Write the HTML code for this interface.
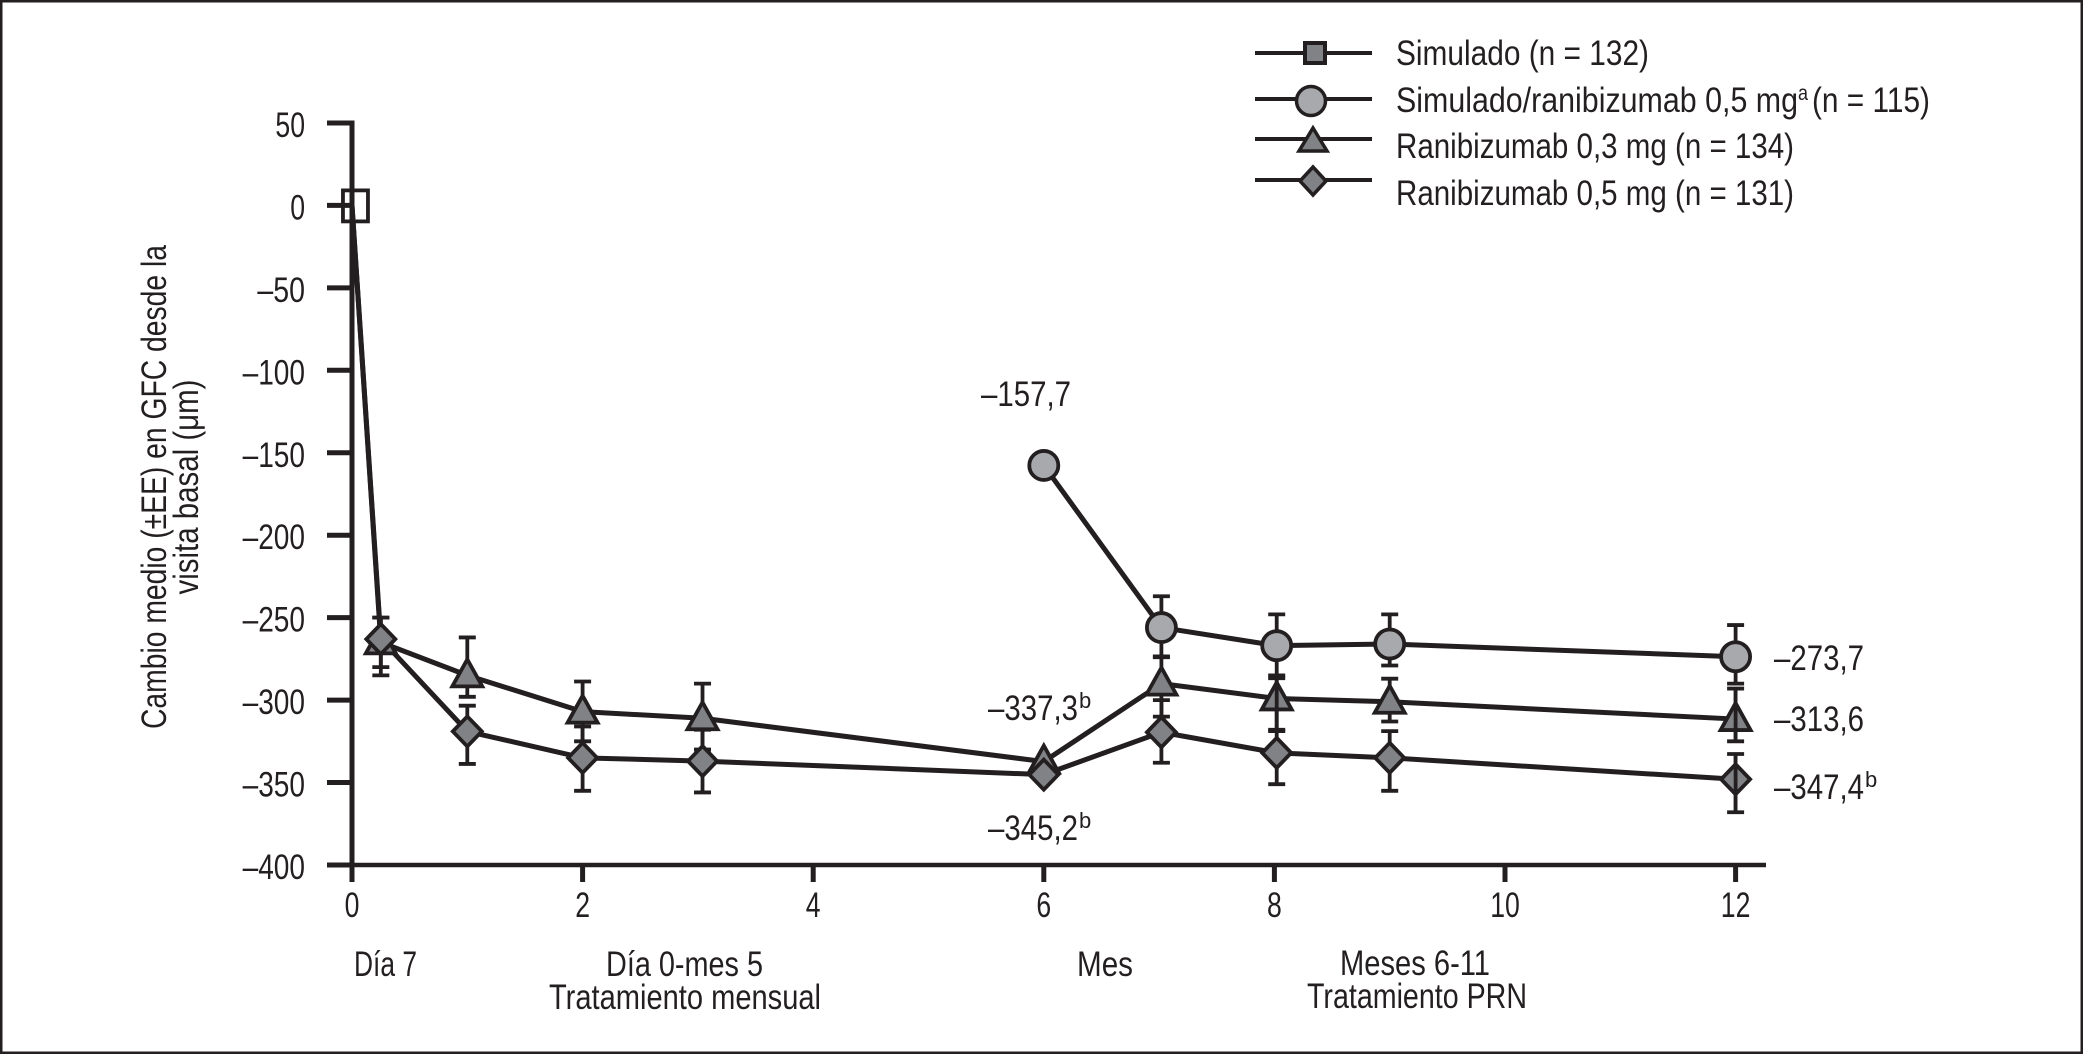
<!DOCTYPE html>
<html lang="es">
<head>
<meta charset="utf-8">
<title>Cambio medio en GFC desde la visita basal</title>
<style>
html,body{margin:0;padding:0;background:#fff;width:2083px;height:1054px;overflow:hidden}
svg{display:block}
text{font-family:"Liberation Sans Narrow","Liberation Sans",sans-serif;font-size:35px;fill:#231f20}
</style>
</head>
<body>
<svg id="chart" xmlns="http://www.w3.org/2000/svg" width="2083" height="1054" viewBox="0 0 2083 1054">
  <rect x="0" y="0" width="2083" height="1054" fill="#fff" stroke="#231f20" stroke-width="5"/>

  <g>
    <text transform="translate(166,487) rotate(-90)" text-anchor="middle" textLength="484" lengthAdjust="spacingAndGlyphs">Cambio medio (±EE) en GFC desde la</text>
    <text transform="translate(198,487) rotate(-90)" text-anchor="middle" textLength="215" lengthAdjust="spacingAndGlyphs">visita basal (μm)</text>
  </g>

  <g>
    <g>
      <line x1="1255" x2="1372" y1="53" y2="53" stroke="#231f20" stroke-width="4"/>
      <rect x="1305" y="43" width="20" height="20" fill="#808285" stroke="#231f20" stroke-width="4"/>
      <text x="1396" y="65" textLength="253" lengthAdjust="spacingAndGlyphs">Simulado (n = 132)</text>
    </g>
    <g>
      <line x1="1255" x2="1372" y1="99" y2="99" stroke="#231f20" stroke-width="4"/>
      <circle cx="1311" cy="101" r="14.5" fill="#a7a9ac" stroke="#231f20" stroke-width="3.5"/>
      <text x="1396" y="112" textLength="402" lengthAdjust="spacingAndGlyphs">Simulado/ranibizumab 0,5 mg</text>
      <text x="1798" y="100" style="font-size:21px" textLength="10" lengthAdjust="spacingAndGlyphs">a</text>
      <text x="1812" y="112" textLength="118" lengthAdjust="spacingAndGlyphs">(n = 115)</text>
    </g>
    <g>
      <line x1="1255" x2="1372" y1="139" y2="139" stroke="#231f20" stroke-width="4"/>
      <polygon points="1313,128 1327,151 1299,151" fill="#808285" stroke="#231f20" stroke-width="3.5"/>
      <text x="1396" y="158" textLength="398" lengthAdjust="spacingAndGlyphs">Ranibizumab 0,3 mg (n = 134)</text>
    </g>
    <g>
      <line x1="1255" x2="1372" y1="180" y2="180" stroke="#231f20" stroke-width="4"/>
      <polygon points="1313,167 1326,181 1313,195 1300,181" fill="#808285" stroke="#231f20" stroke-width="3.5"/>
      <text x="1396" y="205" textLength="398" lengthAdjust="spacingAndGlyphs">Ranibizumab 0,5 mg (n = 131)</text>
    </g>
  </g>

  <g id="axes"></g>
  <g id="series"></g>

  <g>
    <text x="981" y="406" textLength="90" lengthAdjust="spacingAndGlyphs">–157,7</text>
    <text x="988" y="720" textLength="90" lengthAdjust="spacingAndGlyphs">–337,3</text>
    <text x="1079" y="708" style="font-size:22px">b</text>
    <text x="988" y="840" textLength="90" lengthAdjust="spacingAndGlyphs">–345,2</text>
    <text x="1079" y="828" style="font-size:22px">b</text>
    <text x="1774" y="670" textLength="90" lengthAdjust="spacingAndGlyphs">–273,7</text>
    <text x="1774" y="731" textLength="90" lengthAdjust="spacingAndGlyphs">–313,6</text>
    <text x="1774" y="799" textLength="90" lengthAdjust="spacingAndGlyphs">–347,4</text>
    <text x="1865" y="787" style="font-size:22px">b</text>
  </g>

  <g>
    <text x="354" y="976" textLength="63" lengthAdjust="spacingAndGlyphs">Día 7</text>
    <text x="606" y="976" textLength="157" lengthAdjust="spacingAndGlyphs">Día 0-mes 5</text>
    <text x="549" y="1009" textLength="272" lengthAdjust="spacingAndGlyphs">Tratamiento mensual</text>
    <text x="1077" y="976" textLength="56" lengthAdjust="spacingAndGlyphs">Mes</text>
    <text x="1340" y="975" textLength="150" lengthAdjust="spacingAndGlyphs">Meses 6-11</text>
    <text x="1307" y="1008" textLength="220" lengthAdjust="spacingAndGlyphs">Tratamiento PRN</text>
  </g>
</svg>

<script>
// Axis ticks
const yTickValues = [50, 0, -50, -100, -150, -200, -250, -300, -350, -400];
const yTickLabels = ['50', '0', '–50', '–100', '–150', '–200', '–250', '–300', '–350', '–400'];
const xTickValues = [0, 2, 4, 6, 8, 10, 12];
const xTickLabels = ['0', '2', '4', '6', '8', '10', '12'];

// Simulado
const shamMonths = [0.03];
const shamValues = [0];

// Simulado / ranibizumab 0,5 mg
const crossoverMonths = [6, 7.02, 8.02, 9, 12];
const crossoverValues = [-157.7, -256, -267, -266, -273.7];
const crossoverHigh = [null, -237, -248, -248, -254.5];
const crossoverLow = [null, -274, -285, -279, -290];

// Ranibizumab 0,3 mg
const lowDoseMonths = [0, 0.25, 1, 2, 3.04, 6, 7.02, 8.02, 9, 12];
const lowDoseValues = [0, -265, -285, -307, -311, -337.3, -290, -299, -301, -311.5];
const lowDoseHigh = [null, -250, -262, -288.7, -290, null, -273.5, -286.7, -287, -293];
const lowDoseLow = [null, -280, -298, -325, -330, null, -310, -318, -313, -325];

// Ranibizumab 0,5 mg
const highDoseMonths = [0, 0.25, 1, 2, 3.04, 6, 7.02, 8.02, 9, 12];
const highDoseValues = [0, -263, -319, -335, -337, -345.2, -319.5, -332, -335, -348];
const highDoseHigh = [null, -250, -303.4, -316, -318, null, -300, -318.8, -318.8, -332.7];
const highDoseLow = [null, -285, -338.7, -355, -356, null, -338, -351, -355, -368];

// Months where the error stem shows through the marker
const lowDoseStemOver = [8.02, 12];
const highDoseStemOver = [12];

const INK = '#231f20';
const NS = 'http://www.w3.org/2000/svg';
const xScale = m => 352 + 115.3 * m;
const yScale = v => 205.4 - 1.649 * v;

const axes = document.getElementById('axes');
const seriesLayer = document.getElementById('series');

function make(tag, parent, attrs) {
  const el = document.createElementNS(NS, tag);
  for (const k in attrs) el.setAttribute(k, attrs[k]);
  parent.appendChild(el);
  return el;
}
function named(el, name) {
  
  
  return el;
}
function labelWidth(s) {
  const digits = s.replace('–', '').length;
  return digits * 14.8 + (s.includes('–') ? 18 : 0);
}

// Axes
const yBottom = yScale(-400);
const yTop = yScale(50);
named(make('line', axes, {x1: xScale(0), x2: xScale(0), y1: yTop - 2.5, y2: yBottom + 17, stroke: INK, 'stroke-width': 5}), 'y-axis-line');
named(make('line', axes, {x1: 327, x2: 1766, y1: yBottom, y2: yBottom, stroke: INK, 'stroke-width': 4.5}), 'x-axis-line');

yTickValues.forEach((v, i) => {
  const y = yScale(v);
  named(make('line', axes, {x1: 327, x2: xScale(0), y1: y, y2: y, stroke: INK, 'stroke-width': 5}), 'y-tick');
  const t = named(make('text', axes, {x: 305, y: y + 14, 'text-anchor': 'end', textLength: labelWidth(yTickLabels[i]), lengthAdjust: 'spacingAndGlyphs'}), 'y-tick-label');
  t.textContent = yTickLabels[i];
});
xTickValues.forEach((v, i) => {
  const x = xScale(v);
  named(make('line', axes, {x1: x, x2: x, y1: yBottom, y2: yBottom + 17, stroke: INK, 'stroke-width': 5}), 'x-tick');
  const t = named(make('text', axes, {x: x, y: 917, 'text-anchor': 'middle', textLength: labelWidth(xTickLabels[i]), lengthAdjust: 'spacingAndGlyphs'}), 'x-tick-label');
  t.textContent = xTickLabels[i];
});

// Series
function drawLine(months, values, name) {
  const pts = months.map((m, i) => xScale(m) + ',' + yScale(values[i])).join(' ');
  named(make('polyline', seriesLayer, {points: pts, fill: 'none', stroke: INK, 'stroke-width': 5, 'stroke-linejoin': 'round'}), name);
}
function drawErrors(months, high, low, name) {
  months.forEach((m, i) => {
    if (high[i] === null) return;
    const x = xScale(m);
    const g = named(make('g', seriesLayer, {stroke: INK, 'stroke-width': 3.8}), name);
    make('line', g, {x1: x, x2: x, y1: yScale(high[i]), y2: yScale(low[i])});
    make('line', g, {x1: x - 8.5, x2: x + 8.5, y1: yScale(high[i]), y2: yScale(high[i])});
    make('line', g, {x1: x - 8.5, x2: x + 8.5, y1: yScale(low[i]), y2: yScale(low[i])});
  });
}
function drawStemOver(overMonths, months, high, low, name) {
  overMonths.forEach(m => {
    const i = months.indexOf(m);
    const x = xScale(m);
    named(make('line', seriesLayer, {x1: x, x2: x, y1: yScale(high[i]), y2: yScale(low[i]), stroke: INK, 'stroke-width': 3.8}), name);
  });
}
function drawCircle(m, v) {
  named(make('circle', seriesLayer, {cx: xScale(m), cy: yScale(v), r: 14.5, fill: '#a7a9ac', stroke: INK, 'stroke-width': 3.8}), 'point-simulado-ranibizumab');
}
function drawTriangle(m, v) {
  const x = xScale(m), y = yScale(v);
  named(make('polygon', seriesLayer, {points: `${x},${y - 16} ${x + 15},${y + 11} ${x - 15},${y + 11}`, fill: '#808285', stroke: INK, 'stroke-width': 3.8}), 'point-ranibizumab-03');
}
function drawDiamond(m, v) {
  const x = xScale(m), y = yScale(v);
  named(make('polygon', seriesLayer, {points: `${x},${y - 15} ${x + 14.5},${y} ${x},${y + 15} ${x - 14.5},${y}`, fill: '#808285', stroke: INK, 'stroke-width': 3.8}), 'point-ranibizumab-05');
}

drawLine(lowDoseMonths, lowDoseValues, 'line-ranibizumab-03');
drawLine(highDoseMonths, highDoseValues, 'line-ranibizumab-05');
drawLine(crossoverMonths, crossoverValues, 'line-simulado-ranibizumab');
drawErrors(crossoverMonths, crossoverHigh, crossoverLow, 'error-bar-simulado-ranibizumab');
drawErrors(lowDoseMonths, lowDoseHigh, lowDoseLow, 'error-bar-ranibizumab-03');
drawErrors(highDoseMonths, highDoseHigh, highDoseLow, 'error-bar-ranibizumab-05');
lowDoseMonths.forEach((m, i) => { if (m > 0) drawTriangle(m, lowDoseValues[i]); });
highDoseMonths.forEach((m, i) => { if (m > 0) drawDiamond(m, highDoseValues[i]); });
drawStemOver(lowDoseStemOver, lowDoseMonths, lowDoseHigh, lowDoseLow, 'error-stem-ranibizumab-03');
drawStemOver(highDoseStemOver, highDoseMonths, highDoseHigh, highDoseLow, 'error-stem-ranibizumab-05');
crossoverMonths.forEach((m, i) => drawCircle(m, crossoverValues[i]));
shamMonths.forEach((m, i) => {
  named(make('rect', seriesLayer, {x: xScale(m) - 12.5, y: yScale(shamValues[i]) - 15, width: 25, height: 31, fill: 'none', stroke: INK, 'stroke-width': 3.8}), 'point-simulado');
});
</script>
</body>
</html>
